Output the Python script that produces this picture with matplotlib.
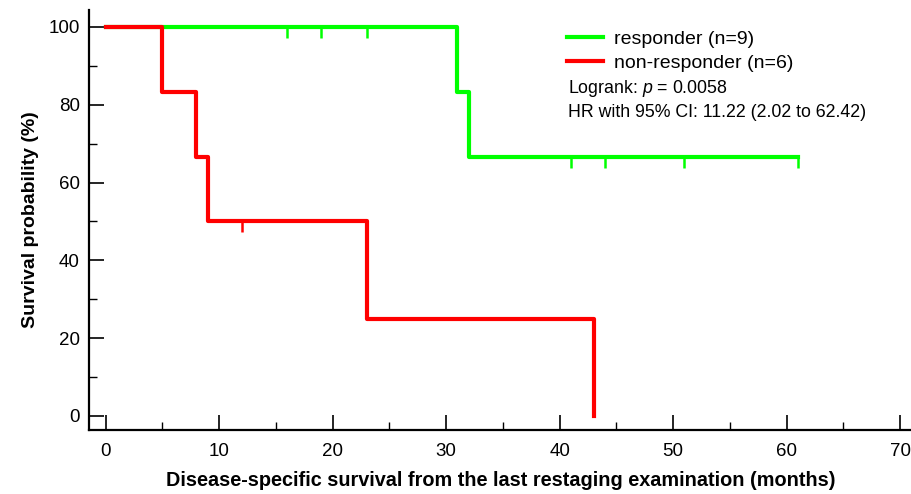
import numpy as np
import matplotlib
matplotlib.use('Agg')
import matplotlib.pyplot as plt
from matplotlib.ticker import MultipleLocator

plt.rcParams['font.family'] = ['Liberation Sans', 'DejaVu Sans']
plt.rcParams['mathtext.fontset'] = 'custom'
plt.rcParams['mathtext.it'] = 'Liberation Sans:italic'
plt.rcParams['mathtext.rm'] = 'Liberation Sans'

# Kaplan-Meier steps (months, %)
resp_time = [0, 31, 32, 61]
resp_surv = [100, 83.33, 66.67, 66.67]
resp_cens_time = [16, 19, 23, 41, 44, 51, 61]
resp_cens_surv = [100, 100, 100, 66.67, 66.67, 66.67, 66.67]

nonresp_time = [0, 5, 8, 9, 23, 43]
nonresp_surv = [100, 83.33, 66.67, 50, 25, 0]
nonresp_cens_time = [12]
nonresp_cens_surv = [50]

green = '#00ff00'
red = '#ff0000'

fig = plt.figure(figsize=(9.12, 4.94), dpi=100)
ax = fig.add_axes([0.0976, 0.1296, 0.9024, 0.8504])

ax.step(resp_time, resp_surv, where='post', color=green, lw=3, label='responder (n=9)')
ax.step(nonresp_time, nonresp_surv, where='post', color=red, lw=3, label='non-responder (n=6)')
ax.plot(resp_cens_time, resp_cens_surv, ls='none', marker=3, ms=8, mew=1.8, color=green)
ax.plot(nonresp_cens_time, nonresp_cens_surv, ls='none', marker=3, ms=8, mew=1.8, color=red)

ax.set_xlim(-1.46, 71.05)
ax.set_ylim(-3.6, 104.4)
ax.xaxis.set_major_locator(MultipleLocator(10))
ax.xaxis.set_minor_locator(MultipleLocator(5))
ax.yaxis.set_major_locator(MultipleLocator(20))
ax.yaxis.set_minor_locator(MultipleLocator(10))
ax.tick_params(which='major', direction='in', length=11, width=1.2, labelsize=13.5)
ax.tick_params(which='minor', direction='in', length=6, width=1.0)
ax.tick_params(axis='x', which='major', pad=9.5)
ax.tick_params(axis='y', which='major', pad=6.5)

for s in ['top', 'right']:
    ax.spines[s].set_visible(False)
for s in ['left', 'bottom']:
    ax.spines[s].set_linewidth(1.6)

ax.set_xlabel('Disease-specific survival from the last restaging examination (months)',
              fontsize=14.3, fontweight='bold', labelpad=8)
ax.set_ylabel('Survival probability (%)', fontsize=14, fontweight='bold', labelpad=7)

ax.legend(loc='upper left', bbox_to_anchor=(0.581, 0.951), frameon=False, fontsize=14,
          handlelength=1.85, handletextpad=0.55, labelspacing=0.3,
          borderpad=0, borderaxespad=0)
ax.text(0.582, 0.812, 'Logrank: $p$ = 0.0058', transform=ax.transAxes, fontsize=12.8, va='center')
ax.text(0.582, 0.755, 'HR with 95% CI: 11.22 (2.02 to 62.42)', transform=ax.transAxes,
        fontsize=12.8, va='center')

fig.savefig('out.png', dpi=100)
